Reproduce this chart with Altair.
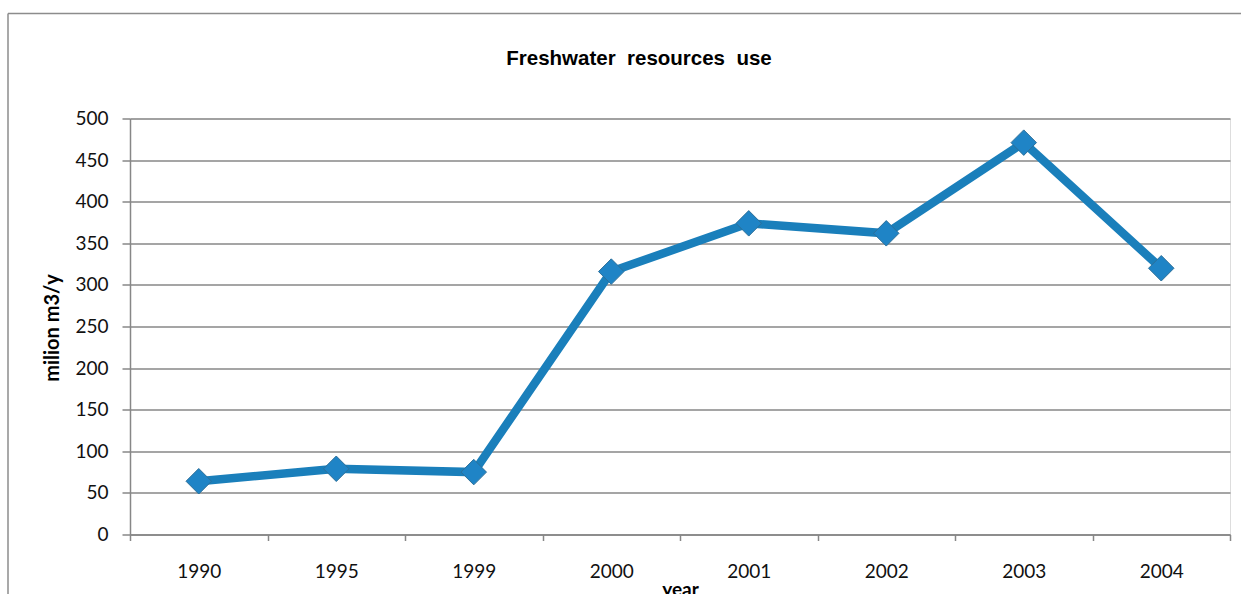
import altair as alt
import pandas as pd

# Freshwater use by year (million m3 per year)
years = ["1990", "1995", "1999", "2000", "2001", "2002", "2003", "2004"]
use = [64, 79, 75, 316, 374, 362, 471, 320]
y_ticks = [0, 50, 100, 150, 200, 250, 300, 350, 400, 450, 500]

# non-breaking spaces keep the wide word gaps of the heading
TITLE = "Freshwater\u00a0\u00a0resources\u00a0\u00a0use"
Y_TITLE = "milion m3/y"
X_TITLE = "year"

GRID = "#878787"
BLUE = "#1a7fbb"
FONT = "Lato"

df = pd.DataFrame({"year": years, "use": use})

x_enc = alt.X(
    "year:N",
    sort=years,
    bandPosition=0.5,
    scale=alt.Scale(type="band", paddingInner=0, paddingOuter=0),
    axis=alt.Axis(
        title=X_TITLE,
        titleFont=FONT,
        titleFontWeight="bold",
        titleFontSize=19,
        titleColor="#000000",
        titleBaseline="alphabetic",
        titleX=550,
        titleY=61,
        labelFont=FONT,
        labelFontSize=19,
        labelColor="#111111",
        labelAngle=0,
        labelBaseline="alphabetic",
        labelPadding=36.5,
        tickBand="extent",
        tickSize=6,
        tickColor=GRID,
        tickWidth=1.5,
        domainColor=GRID,
        domainWidth=1.5,
        grid=False,
    ),
)

y_enc = alt.Y(
    "use:Q",
    scale=alt.Scale(domain=[0, 500], nice=False, zero=True),
    axis=alt.Axis(
        values=y_ticks,
        title=Y_TITLE,
        titleFont=FONT,
        titleFontWeight="bold",
        titleFontSize=20,
        titleColor="#000000",
        titleAngle=-90,
        titleAlign="center",
        titleBaseline="middle",
        titleX=-78,
        titleY=209,
        labelFont=FONT,
        labelFontSize=19,
        labelColor="#111111",
        labelPadding=14,
        labelBaseline="middle",
        tickSize=8,
        tickColor=GRID,
        tickWidth=1.5,
        domainColor=GRID,
        domainWidth=1.5,
        grid=True,
        gridColor=GRID,
        gridWidth=1.3,
    ),
)

line = alt.Chart(df).mark_line(color=BLUE, strokeWidth=8.5, strokeJoin="miter").encode(
    x=x_enc, y=y_enc
)

points = alt.Chart(df).mark_point(
    shape="diamond", filled=True, size=650, color="#1f84c6",
    stroke="#2d6f99", strokeWidth=1, opacity=1
).encode(x=alt.X("year:N", sort=years, bandPosition=0.5), y="use:Q")

one = pd.DataFrame({"title": [TITLE]})

# chart frame (top and left edges of the chart area)
frame_top = alt.Chart(one).mark_rule(color="#8c8c8c", strokeWidth=1.5).encode(
    x=alt.value(-122), x2=alt.value(1111), y=alt.value(-105)
)
frame_left = alt.Chart(one).mark_rule(color="#8c8c8c", strokeWidth=1.5).encode(
    x=alt.value(-122), y=alt.value(-105), y2=alt.value(476)
)

title = alt.Chart(one).mark_text(
    font="Liberation Sans", fontSize=20.5, fontWeight="bold", color="#000000",
    align="center", baseline="alphabetic"
).encode(text="title:N", x=alt.value(509), y=alt.value(-54))

chart = alt.layer(frame_top, frame_left, line, points, title).properties(
    width=1100,
    height=416,
    autosize=alt.AutoSizeParams(type="none"),
    padding={"left": 130, "top": 118.5, "right": 11, "bottom": 59.5},
).configure_view(stroke=None).configure(background="#ffffff")

chart.save("out.html", embed_options={"renderer": "svg", "actions": False})
